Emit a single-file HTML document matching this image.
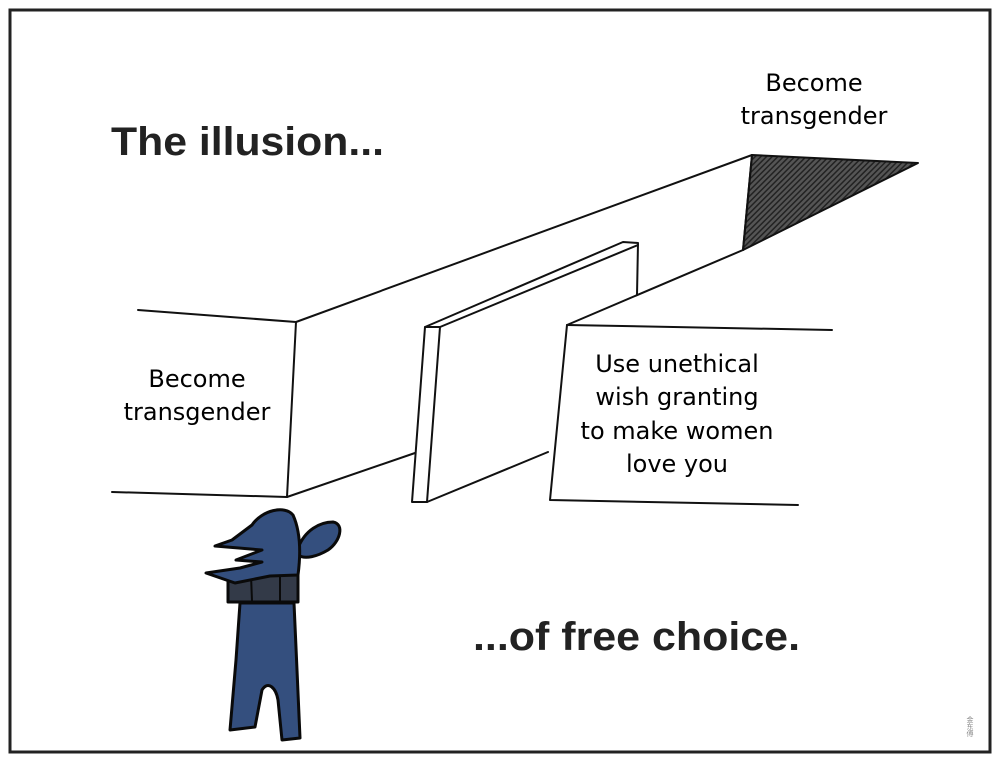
<!DOCTYPE html>
<html><head><meta charset="utf-8"><style>
html,body{margin:0;padding:0;background:#fff;}
svg{display:block}
</style></head><body>
<svg width="1000" height="762" viewBox="0 0 1000 762" xmlns="http://www.w3.org/2000/svg">
<defs>
<pattern id="h" width="4" height="4" patternUnits="userSpaceOnUse" patternTransform="rotate(45)">
<rect width="4" height="4" fill="#555"/><rect width="1.5" height="4" fill="#222"/>
</pattern>
</defs>
<rect x="0" y="0" width="1000" height="762" fill="#fff"/>
<rect x="10" y="10" width="980" height="742" fill="#fff" stroke="#222" stroke-width="3"/>
<g fill="none" stroke="#111" stroke-width="2" stroke-linecap="round" stroke-linejoin="round">
<path d="M138 310 L296 322 L287 497 L112 492"/>
<path d="M296 322 L752 155"/>
<path d="M287 497 L415 453"/>
<path d="M752 155 L918 163 L743 250 Z" fill="url(#h)"/>
<path d="M752 155 L743 250"/>
<path d="M425 327 L623 242 L638 243 L637 295"/>
<path d="M440 327 L638 245"/>
<path d="M425 327 L440 327 L427 502 L412 502 Z"/>
<path d="M427 502 L548 452"/>
<path d="M567 325 L743 250"/>
<path d="M567 325 L832 330"/>
<path d="M567 325 L550 500 L798 505"/>
</g>
<g stroke="#0a0a0a" stroke-width="3" stroke-linejoin="round">
<path d="M298 548 C305 530 320 522 333 522 C345 524 340 542 328 550 C318 556 305 560 298 555 Z" fill="#344f7e"/>
<path d="M240 603 L294 603 L297 670 L300 738 L282 740 L278 700 C276 688 268 680 262 690 L255 727 L230 730 L236 660 Z" fill="#344f7e"/>
<path d="M228 573 L228 602 L298 602 L298 573 Z" fill="#333a48"/>
<path d="M251 575 L252 601 M280 575 L280 601" fill="none" stroke-width="2"/>
<path d="M232 540 L252 525 C262 510 285 505 293 515 C302 535 300 560 298 575 L270 576 L235 583 L206 573 L240 568 L262 562 L236 560 L262 550 L215 546 Z" fill="#344f7e"/>
</g>
<g font-family="Liberation Sans, sans-serif" fill="#222" font-weight="bold">
<text x="111" y="155" font-size="40" textLength="273" lengthAdjust="spacingAndGlyphs">The illusion...</text>
<text x="473" y="650" font-size="40" textLength="327" lengthAdjust="spacingAndGlyphs">...of free choice.</text>
</g>
<g font-family="DejaVu Sans, sans-serif" font-size="24" fill="#000" text-anchor="middle">
<text x="814" y="91">Become</text>
<text x="814" y="124">transgender</text>
<text x="197" y="387">Become</text>
<text x="197" y="420">transgender</text>
<text x="677" y="372">Use unethical</text>
<text x="677" y="405">wish granting</text>
<text x="677" y="439">to make women</text>
<text x="677" y="472">love you</text>
</g>
<text x="970" y="716" font-size="7" fill="#888" font-family="Noto Sans CJK SC, sans-serif" writing-mode="tb">金东傅</text>
</svg>
</body></html>
